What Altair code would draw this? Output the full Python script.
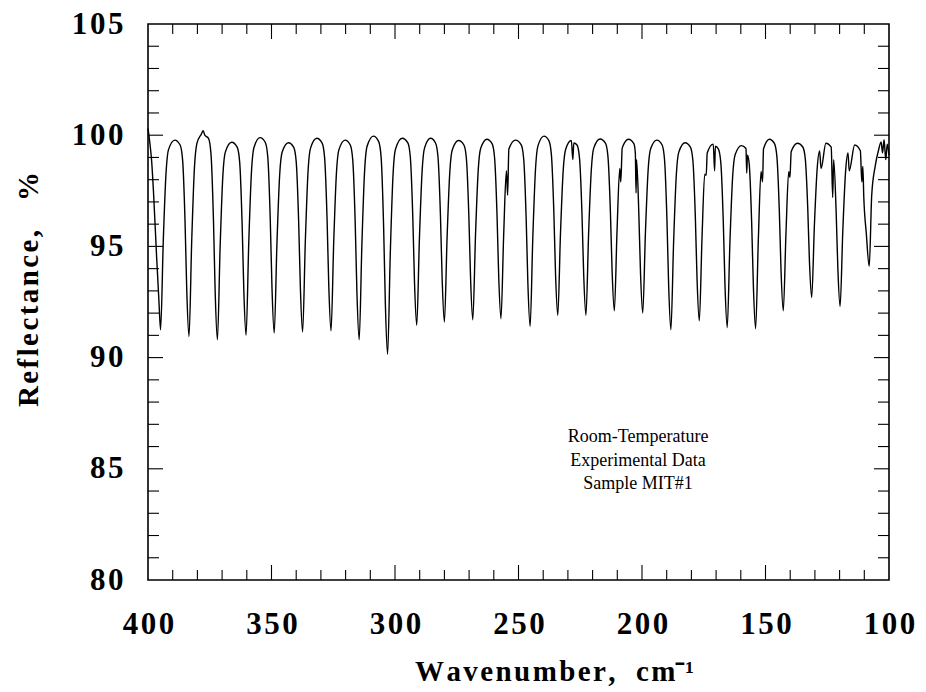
import altair as alt
import pandas as pd

# ---- spectrum (wavenumber cm-1, reflectance %) ----
WAVENUMBER = [
    400.0, 399.3, 398.5, 397.8, 396.5, 395.6, 394.9,
    393.8, 392.7, 391.7, 389.15, 387.0, 386.0, 385.0, 384.3, 383.4,
    382.3, 381.2, 380.2, 378.4, 377.65, 377.0, 375.5, 374.5, 373.5, 372.8, 371.9,
    370.8, 369.7, 368.7, 366.1, 363.9, 362.9, 361.9, 361.2, 360.3,
    359.2, 358.1, 357.1, 354.6, 352.5, 351.5, 350.5, 349.8, 348.9,
    347.8, 346.7, 345.7, 343.15, 341.0, 340.0, 339.0, 338.3, 337.4,
    336.3, 335.2, 334.2, 331.65, 329.5, 328.5, 327.5, 326.8, 325.9,
    324.8, 323.7, 322.7, 320.2, 318.1, 317.1, 316.1, 315.4, 314.5,
    313.4, 312.3, 311.3, 308.75, 306.6, 305.6, 304.6, 303.9, 303.0,
    301.9, 300.8, 299.8, 297.1, 294.8, 293.8, 292.8, 292.1, 291.2,
    290.1, 289.0, 288.0, 285.6, 283.6, 282.6, 281.6, 280.9, 280.0,
    278.9, 277.8, 276.8, 274.25, 272.1, 271.1, 270.1, 269.4, 268.5,
    267.4, 266.3, 265.3, 262.8, 260.7, 259.7, 258.7, 258.0, 257.1,
    256.0, 254.9, 254.4, 253.9, 251.2, 248.9, 247.9, 246.9, 246.2, 245.3,
    244.2, 243.1, 242.1, 239.7, 237.7, 236.7, 235.7, 235.0, 234.1,
    233.0, 231.9, 230.9, 228.6, 228.0, 227.6, 226.3, 225.3, 224.3, 223.6, 222.7,
    221.6, 220.5, 219.5, 216.95, 214.8, 213.8, 212.8, 212.1, 211.2,
    210.1, 209.0, 208.6, 208.0, 205.45, 203.3, 202.7, 202.4, 202.2, 201.3, 200.6, 199.7,
    198.6, 197.5, 196.5, 194.0, 191.9, 190.9, 189.9, 189.2, 188.3,
    187.2, 186.1, 185.1, 182.55, 180.4, 179.4, 178.4, 177.7, 176.8,
    175.7, 174.6, 174.0, 173.6, 171.15, 170.6, 170.3, 169.1, 168.1, 167.1, 166.4, 165.5,
    164.4, 163.3, 162.3, 159.75, 157.9, 157.6, 157.3, 156.6, 155.6, 154.9, 154.0,
    152.9, 151.8, 151.2, 150.8, 148.4, 146.4, 145.4, 144.4, 143.7, 142.8,
    141.7, 140.6, 140.1, 139.6, 137.05, 134.9, 133.9, 132.9, 132.2, 131.3,
    130.2, 129.1, 128.1, 127.5, 125.55, 123.4, 122.8, 122.4, 121.4, 120.7, 119.8,
    118.7, 117.6, 116.6, 116.1, 113.9, 111.6, 111.0, 110.6, 110.2, 109.2, 108.0,
    107.0, 105.6, 104.3, 103.2, 102.6, 102.0, 101.3, 100.7, 100.0,
]
REFLECTANCE = [
    100.3, 99.7, 98.8, 97.5, 94.5, 92.6, 91.25,
    95.3, 98.3, 99.35, 99.78, 99.56, 98.9, 96.1, 93.0, 90.95,
    95.25, 98.54, 99.63, 100.05, 100.2, 100.0, 99.86, 99.16, 96.19, 92.94, 90.8,
    94.97, 98.17, 99.24, 99.68, 99.46, 98.81, 96.03, 93.0, 91.0,
    95.18, 98.38, 99.45, 99.89, 99.67, 99.01, 96.2, 93.12, 91.1,
    95.12, 98.2, 99.23, 99.66, 99.45, 98.81, 96.09, 93.11, 91.15,
    95.24, 98.38, 99.42, 99.86, 99.64, 98.99, 96.22, 93.19, 91.2,
    95.23, 98.32, 99.35, 99.78, 99.56, 98.88, 96.01, 92.87, 90.8,
    95.11, 98.4, 99.5, 99.96, 99.71, 98.98, 95.84, 92.41, 90.15,
    94.71, 98.21, 99.37, 99.86, 99.65, 99.02, 96.33, 93.38, 91.45,
    95.4, 98.43, 99.44, 99.86, 99.65, 99.03, 96.39, 93.5, 91.6,
    95.44, 98.37, 99.35, 99.76, 99.56, 98.95, 96.37, 93.55, 91.7,
    95.52, 98.44, 99.41, 99.82, 99.62, 99.01, 96.43, 93.61, 91.75,
    95.52, 98.4, 97.3, 99.38, 99.78, 99.57, 98.94, 96.26, 93.33, 91.4,
    95.42, 98.5, 99.53, 99.96, 99.76, 99.15, 96.57, 93.75, 91.9,
    95.59, 98.42, 99.37, 99.76, 98.9, 99.65, 99.56, 98.97, 96.46, 93.71, 91.9,
    95.63, 98.48, 99.43, 99.83, 99.64, 99.06, 96.58, 93.88, 92.1,
    95.73, 98.51, 97.9, 99.43, 99.82, 99.62, 99.2, 97.4, 98.9, 96.54, 93.8, 92.0,
    95.66, 98.46, 99.39, 99.78, 99.57, 98.93, 96.2, 93.21, 91.25,
    95.2, 98.23, 99.24, 99.66, 99.46, 98.86, 96.3, 93.49, 91.65,
    95.39, 98.25, 98.2, 99.2, 99.6, 98.4, 99.5, 99.39, 98.78, 96.14, 93.25, 91.35,
    95.19, 98.14, 99.12, 99.53, 99.4, 98.3, 99.1, 98.71, 96.07, 93.19, 91.3,
    95.3, 98.37, 97.9, 99.39, 99.82, 99.63, 99.05, 96.58, 93.88, 92.1,
    95.64, 98.36, 98.1, 99.26, 99.64, 99.47, 98.95, 96.73, 94.3, 92.7,
    95.96, 98.46, 99.29, 98.5, 99.64, 99.46, 97.2, 98.9, 96.56, 93.99, 92.3,
    95.71, 98.33, 99.2, 98.4, 99.56, 99.3, 97.9, 98.6, 97.2, 95.6, 94.1,
    97.3, 98.6, 99.3, 99.7, 99.2, 99.8, 98.9, 99.6, 99.1,
]

# ---- axes / ticks ----
X_LABELS = [400, 350, 300, 250, 200, 150, 100]
Y_LABELS = [80, 85, 90, 95, 100, 105]
X_MAJOR_TICKS = [350, 300, 250, 200, 150]
X_MINOR_TICKS = [390, 380, 370, 360, 340, 330, 320, 310, 290, 280, 270, 260,
                 240, 230, 220, 210, 190, 180, 170, 160, 140, 130, 120, 110]
Y_MAJOR_TICKS = [85, 90, 95, 100]
Y_MINOR_TICKS = [81, 82, 83, 84, 86, 87, 88, 89, 91, 92, 93, 94, 96, 97, 98, 99,
                 101, 102, 103, 104]

# ---- annotation ----
NOTE_LINES = ["Room-Temperature", "Experimental Data", "Sample MIT#1"]
NOTE_X = [201.6, 201.6, 201.6]
NOTE_Y = [86.45, 85.37, 84.3]

W, H = 741, 556
SERIF = "Liberation Serif"
HS = "\u200a"

X_TITLE = HS.join("Wavenumber,") + "\u2002\u2009" + HS.join("cm") + "\u207b\u00b9"
Y_TITLE = HS.join("Reflectance,") + "\u2003" + "%"

spec = pd.DataFrame({"wn": WAVENUMBER, "r": REFLECTANCE})
xs = alt.Scale(domain=[100, 400], reverse=True, nice=False, zero=False)
ys = alt.Scale(domain=[80, 105], nice=False, zero=False)

x_axis = alt.Axis(values=X_LABELS, ticks=False, domain=False, grid=False,
                  labelPadding=29, labelFont=SERIF, labelFontWeight="bold",
                  labelFontSize=31, labelColor="black", labelFlush=False,
                  labelExpr=f"join(split(datum.label, ''), '{HS}')",
                  title=X_TITLE, titleFont=SERIF,
                  titleFontWeight="bold", titleFontSize=29, titleColor="black",
                  titleX=406, titleY=100, titleAlign="center",
                  titleBaseline="alphabetic", titleAnchor="start")
y_axis = alt.Axis(values=Y_LABELS, ticks=False, domain=False, grid=False,
                  labelPadding=25, labelFont=SERIF, labelFontWeight="bold",
                  labelFontSize=31, labelColor="black", labelFlush=False,
                  labelExpr=f"join(split(datum.label, ''), '{HS}')",
                  title=Y_TITLE, titleFont=SERIF,
                  titleFontWeight="bold", titleFontSize=29, titleColor="black",
                  titleX=-111, titleY=265, titleAlign="center",
                  titleBaseline="alphabetic", titleAnchor="start")

line = alt.Chart(spec).mark_line(color="black", strokeWidth=1.4, interpolate="monotone").encode(
    x=alt.X("wn:Q", scale=xs, axis=x_axis),
    y=alt.Y("r:Q", scale=ys, axis=y_axis),
)


def xticks(vals, length, top):
    df = pd.DataFrame({"wn": vals})
    if top:
        yy, yy2 = alt.value(0), alt.value(length)
    else:
        yy, yy2 = alt.value(H), alt.value(H - length)
    return alt.Chart(df).mark_rule(color="black", strokeWidth=1.1).encode(
        x=alt.X("wn:Q", scale=xs, axis=x_axis), y=yy, y2=yy2)


def yticks(vals, length, right):
    df = pd.DataFrame({"r": vals})
    if right:
        xx, xx2 = alt.value(W), alt.value(W - length)
    else:
        xx, xx2 = alt.value(0), alt.value(length)
    return alt.Chart(df).mark_rule(color="black", strokeWidth=1.1).encode(
        y=alt.Y("r:Q", scale=ys, axis=y_axis), x=xx, x2=xx2)


ticks = [
    xticks(X_MAJOR_TICKS, 15, False), xticks(X_MINOR_TICKS, 10, False),
    xticks(X_MAJOR_TICKS, 15, True), xticks(X_MINOR_TICKS, 10, True),
    yticks(Y_MAJOR_TICKS, 15, False), yticks(Y_MINOR_TICKS, 11, False),
    yticks(Y_MAJOR_TICKS, 15, True), yticks(Y_MINOR_TICKS, 11, True),
]

notes = alt.Chart(pd.DataFrame({"t": NOTE_LINES, "wn": NOTE_X, "r": NOTE_Y})).mark_text(
    font=SERIF, fontSize=18, color="black", align="center", baseline="middle"
).encode(
    x=alt.X("wn:Q", scale=xs, axis=x_axis),
    y=alt.Y("r:Q", scale=ys, axis=y_axis),
    text="t:N",
)

chart = alt.layer(line, *ticks, notes).properties(
    width=W, height=H,
    autosize=alt.AutoSizeParams(type="none"),
    padding={"left": 148, "top": 24, "right": 37, "bottom": 112},
    background="white",
).configure_view(stroke="black", strokeWidth=1.6)

chart.save("out.html", embed_options={"renderer": "svg", "actions": False})
